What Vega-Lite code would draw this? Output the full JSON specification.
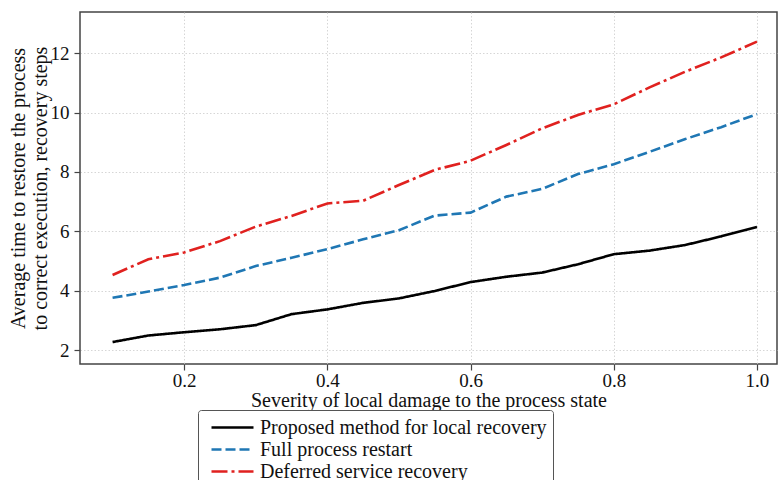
{
  "$schema": "https://vega.github.io/schema/vega-lite/v6.json",
  "width": 697,
  "height": 352,
  "autosize": {"type": "none"},
  "padding": {"left": 80, "top": 12, "right": 1, "bottom": 116},
  "background": "white",
  "config": {
    "font": "Liberation Serif",
    "view": {"stroke": "#444", "strokeWidth": 1.5},
    "axis": {
      "labelFont": "Liberation Serif",
      "titleFont": "Liberation Serif",
      "labelFontSize": 19,
      "titleFontSize": 20,
      "titleFontWeight": "normal",
      "labelColor": "#111",
      "titleColor": "#111",
      "gridColor": "#cccccc",
      "gridDash": [1.5, 2],
      "gridWidth": 0.8,
      "domain": false,
      "tickColor": "#444",
      "tickSize": 6,
      "tickWidth": 1.2
    }
  },
  "data": {
    "values": [
      {"x": 0.10, "y": 2.27, "s": "Proposed method for local recovery"},
      {"x": 0.15, "y": 2.49, "s": "Proposed method for local recovery"},
      {"x": 0.20, "y": 2.60, "s": "Proposed method for local recovery"},
      {"x": 0.25, "y": 2.70, "s": "Proposed method for local recovery"},
      {"x": 0.30, "y": 2.84, "s": "Proposed method for local recovery"},
      {"x": 0.35, "y": 3.21, "s": "Proposed method for local recovery"},
      {"x": 0.40, "y": 3.37, "s": "Proposed method for local recovery"},
      {"x": 0.45, "y": 3.59, "s": "Proposed method for local recovery"},
      {"x": 0.50, "y": 3.74, "s": "Proposed method for local recovery"},
      {"x": 0.55, "y": 3.99, "s": "Proposed method for local recovery"},
      {"x": 0.60, "y": 4.29, "s": "Proposed method for local recovery"},
      {"x": 0.65, "y": 4.47, "s": "Proposed method for local recovery"},
      {"x": 0.70, "y": 4.61, "s": "Proposed method for local recovery"},
      {"x": 0.75, "y": 4.89, "s": "Proposed method for local recovery"},
      {"x": 0.80, "y": 5.23, "s": "Proposed method for local recovery"},
      {"x": 0.85, "y": 5.35, "s": "Proposed method for local recovery"},
      {"x": 0.90, "y": 5.54, "s": "Proposed method for local recovery"},
      {"x": 0.95, "y": 5.83, "s": "Proposed method for local recovery"},
      {"x": 1.00, "y": 6.15, "s": "Proposed method for local recovery"},
      {"x": 0.10, "y": 3.76, "s": "Full process restart"},
      {"x": 0.15, "y": 3.97, "s": "Full process restart"},
      {"x": 0.20, "y": 4.19, "s": "Full process restart"},
      {"x": 0.25, "y": 4.44, "s": "Full process restart"},
      {"x": 0.30, "y": 4.83, "s": "Full process restart"},
      {"x": 0.35, "y": 5.11, "s": "Full process restart"},
      {"x": 0.40, "y": 5.40, "s": "Full process restart"},
      {"x": 0.45, "y": 5.73, "s": "Full process restart"},
      {"x": 0.50, "y": 6.04, "s": "Full process restart"},
      {"x": 0.55, "y": 6.53, "s": "Full process restart"},
      {"x": 0.60, "y": 6.63, "s": "Full process restart"},
      {"x": 0.65, "y": 7.17, "s": "Full process restart"},
      {"x": 0.70, "y": 7.43, "s": "Full process restart"},
      {"x": 0.75, "y": 7.93, "s": "Full process restart"},
      {"x": 0.80, "y": 8.26, "s": "Full process restart"},
      {"x": 0.85, "y": 8.68, "s": "Full process restart"},
      {"x": 0.90, "y": 9.11, "s": "Full process restart"},
      {"x": 0.95, "y": 9.51, "s": "Full process restart"},
      {"x": 1.00, "y": 9.95, "s": "Full process restart"},
      {"x": 0.10, "y": 4.53, "s": "Deferred service recovery"},
      {"x": 0.15, "y": 5.06, "s": "Deferred service recovery"},
      {"x": 0.20, "y": 5.29, "s": "Deferred service recovery"},
      {"x": 0.25, "y": 5.67, "s": "Deferred service recovery"},
      {"x": 0.30, "y": 6.16, "s": "Deferred service recovery"},
      {"x": 0.35, "y": 6.52, "s": "Deferred service recovery"},
      {"x": 0.40, "y": 6.94, "s": "Deferred service recovery"},
      {"x": 0.45, "y": 7.03, "s": "Deferred service recovery"},
      {"x": 0.50, "y": 7.56, "s": "Deferred service recovery"},
      {"x": 0.55, "y": 8.07, "s": "Deferred service recovery"},
      {"x": 0.60, "y": 8.38, "s": "Deferred service recovery"},
      {"x": 0.65, "y": 8.91, "s": "Deferred service recovery"},
      {"x": 0.70, "y": 9.47, "s": "Deferred service recovery"},
      {"x": 0.75, "y": 9.92, "s": "Deferred service recovery"},
      {"x": 0.80, "y": 10.28, "s": "Deferred service recovery"},
      {"x": 0.85, "y": 10.85, "s": "Deferred service recovery"},
      {"x": 0.90, "y": 11.38, "s": "Deferred service recovery"},
      {"x": 0.95, "y": 11.86, "s": "Deferred service recovery"},
      {"x": 1.00, "y": 12.39, "s": "Deferred service recovery"}
    ]
  },
  "mark": {"type": "line", "strokeWidth": 2.6, "clip": true},
  "encoding": {
    "x": {
      "field": "x",
      "type": "quantitative",
      "scale": {"domain": [0.0545, 1.028], "nice": false, "zero": false},
      "axis": {"values": [0.2, 0.4, 0.6, 0.8, 1.0], "format": ".1f", "labelFont": "Liberation Serif", "titleFont": "Liberation Serif", "title": "Severity of local damage to the process state", "titlePadding": 0, "labelPadding": 1}
    },
    "y": {
      "field": "y",
      "type": "quantitative",
      "scale": {"domain": [1.53, 13.39], "nice": false, "zero": false},
      "axis": {"values": [2, 4, 6, 8, 10, 12], "labelFont": "Liberation Serif", "titleFont": "Liberation Serif", "title": ["Average time to restore the process", "to correct execution, recovery steps"], "titlePadding": 0, "labelPadding": 5, "titleLineHeight": 22}
    },
    "color": {
      "field": "s",
      "type": "nominal",
      "sort": ["Proposed method for local recovery", "Full process restart", "Deferred service recovery"],
      "scale": {"domain": ["Proposed method for local recovery", "Full process restart", "Deferred service recovery"], "range": ["#000000", "#1f77b4", "#e0211f"]},
      "legend": {
        "title": null,
        "orient": "none",
        "legendX": 118,
        "legendY": 398,
        "symbolType": "M-0.4,0H3.8",
        "symbolSize": 400,
        "symbolStrokeWidth": 2.6,
        "labelOffset": 33,
        "labelFont": "Liberation Serif",
        "labelFontSize": 20,
        "labelColor": "#111",
        "labelLimit": 400,
        "rowPadding": 0,
        "padding": 6,
        "strokeColor": "#555",
        "cornerRadius": 3,
        "fillColor": "white"
      }
    },
    "strokeDash": {
      "field": "s",
      "type": "nominal",
      "scale": {"domain": ["Proposed method for local recovery", "Full process restart", "Deferred service recovery"], "range": [[1, 0], [10, 4], [16, 4, 3, 4]]},
      "legend": null
    }
  }
}
